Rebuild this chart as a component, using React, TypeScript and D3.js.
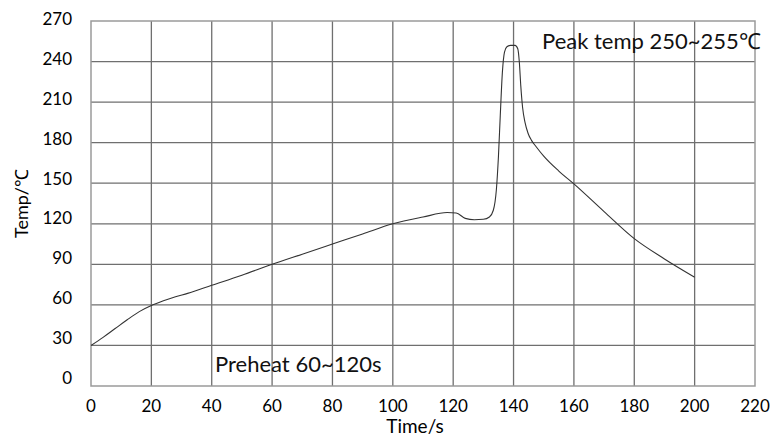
import React, { useRef, useEffect } from 'react';
import * as d3 from 'd3';

// reflow profile
const times = [0, 4, 8, 12, 16, 20, 24, 28, 32, 40, 50, 60, 70, 80, 90, 100, 110, 118, 121, 124, 127, 130, 132, 133.3, 134.3, 135, 135.6, 136.3, 137, 137.8, 139, 140.5, 141.4, 141.9, 142.4, 143, 143.8, 144.8, 146, 147.5, 150, 155, 160, 170, 180, 190, 200];
const temps = [30, 36, 42.5, 49, 55, 59.5, 63, 66, 68.5, 74.5, 82, 90, 97.5, 105, 112.5, 120, 125, 128.3, 128, 124, 123, 123.3, 125, 130, 145, 170, 200, 232, 247, 251, 252, 252, 249.5, 240, 222, 206, 195, 187, 181.5, 177, 170, 159, 149.5, 129, 109, 94, 80.5];

const xTicks = [0, 20, 40, 60, 80, 100, 120, 140, 160, 180, 200, 220];
const yTicks = [0, 30, 60, 90, 120, 150, 180, 210, 240, 270];

const W = 774;
const H = 439;
const margin = { top: 21, right: 19, bottom: 53, left: 91 };

const App = () => {
  const svgRef = useRef<SVGSVGElement>(null);

  useEffect(() => {
    const svg = d3.select(svgRef.current);
    svg.selectAll('*').remove();

    const x = d3.scaleLinear().domain([0, 220]).range([margin.left, W - margin.right]);
    const y = d3.scaleLinear().domain([0, 270]).range([H - margin.bottom, margin.top]);
    const font = 'Lato, "Open Sans", sans-serif';

    // grid
    svg.append('g')
      .selectAll('line')
      .data(xTicks.slice(1, -1))
      .join('line')
      .attr('x1', d => x(d)).attr('x2', d => x(d))
      .attr('y1', y(270)).attr('y2', y(0))
      .attr('stroke', '#6f6f6f').attr('stroke-width', 1.3);
    svg.append('g')
      .selectAll('line')
      .data(yTicks.slice(1, -1))
      .join('line')
      .attr('x1', x(0)).attr('x2', x(220))
      .attr('y1', d => y(d)).attr('y2', d => y(d))
      .attr('stroke', '#6f6f6f').attr('stroke-width', 1.3);

    // frame
    svg.append('rect')
      .attr('x', x(0)).attr('y', y(270))
      .attr('width', x(220) - x(0)).attr('height', y(0) - y(270))
      .attr('fill', 'none').attr('stroke', '#9a9a9a').attr('stroke-width', 1.5);

    // tick labels
    svg.append('g')
      .selectAll('text')
      .data(xTicks)
      .join('text')
      .attr('x', d => x(d)).attr('y', y(0) + 26)
      .attr('text-anchor', 'middle')
      .attr('font-family', font).attr('font-size', 17).attr('fill', '#000')
      .text(d => d);
    svg.append('g')
      .selectAll('text')
      .data(yTicks)
      .join('text')
      .attr('x', x(0) - 19)
      .attr('y', d => y(d) - 2 - (270 - d) / 270 * 6)
      .attr('dy', '0.35em')
      .attr('text-anchor', 'end')
      .attr('font-family', font).attr('font-size', 17).attr('fill', '#000')
      .text(d => d);

    // curve
    const pts: [number, number][] = times.map((t, i) => [t, temps[i]]);
    const line = d3.line<[number, number]>()
      .x(d => x(d[0]))
      .y(d => y(d[1]))
      .curve(d3.curveMonotoneX);
    svg.append('path')
      .attr('d', line(pts))
      .attr('fill', 'none')
      .attr('stroke', '#333')
      .attr('stroke-width', 1.1);

    // annotations
    svg.append('text')
      .attr('x', 542).attr('y', 49)
      .attr('font-family', font).attr('font-size', 22).attr('fill', '#111')
      .text('Peak temp 250~255℃');
    svg.append('text')
      .attr('x', 215).attr('y', 372)
      .attr('font-family', font).attr('font-size', 22).attr('fill', '#111')
      .text('Preheat 60~120s');

    // axis titles
    svg.append('text')
      .attr('x', 415).attr('y', 433)
      .attr('text-anchor', 'middle')
      .attr('font-family', font).attr('font-size', 19).attr('fill', '#000')
      .text('Time/s');
    svg.append('text')
      .attr('transform', `translate(28,${(y(0) + y(270)) / 2}) rotate(-90)`)
      .attr('text-anchor', 'middle')
      .attr('font-family', font).attr('font-size', 18).attr('fill', '#000')
      .text('Temp/℃');
  }, []);

  return (
    <svg
      ref={svgRef}
      width={W}
      height={H}
      viewBox={`0 0 ${W} ${H}`}
      style={{ position: 'absolute', left: 0, top: 0, background: '#fff' }}
    />
  );
};

export default App;
